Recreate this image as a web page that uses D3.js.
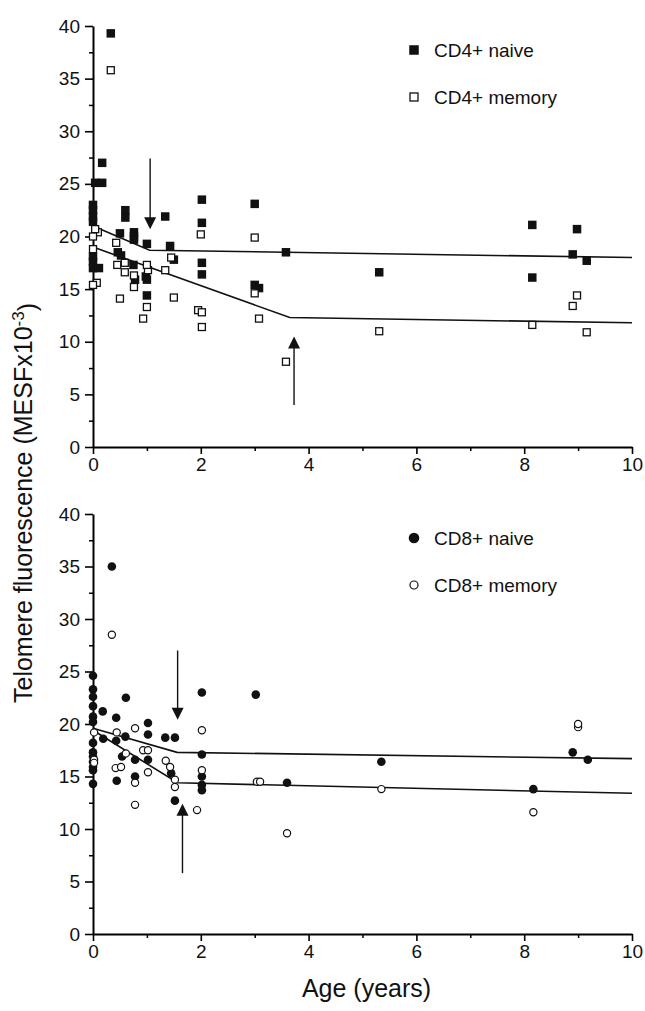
<!DOCTYPE html>
<html>
<head>
<meta charset="utf-8">
<script src="https://cdn.jsdelivr.net/npm/d3@7"></script>
<style>
  body { margin: 0; background: #fff; }
  svg { display: block; font-family: "Liberation Sans", Arial, Helvetica, sans-serif; }
</style>
</head>
<body>
<svg id="chart" width="645" height="1011"></svg>
<script>
// values: [age in years, telomere fluorescence x10^-3]
const cd4Naive = [
  [0.33, 39.3], [0.17, 27.0], [0.04, 25.1], [0.17, 25.1],
  [0.0, 23.0], [0.0, 22.5], [0.0, 21.9], [0.0, 21.4],
  [0.0, 18.1], [0.0, 17.6], [0.0, 17.0], [0.11, 17.0],
  [0.6, 22.5], [0.6, 21.8], [0.5, 20.3], [0.76, 20.4], [0.76, 20.0], [0.76, 19.7],
  [1.0, 19.3], [1.34, 21.9], [1.43, 19.1], [1.5, 17.8],
  [0.46, 18.5], [0.52, 18.2], [0.75, 17.3], [0.78, 15.9],
  [0.98, 16.2], [1.0, 15.9], [1.0, 14.4],
  [2.02, 23.5], [2.02, 21.3], [2.02, 17.5], [2.02, 16.4],
  [3.0, 23.1], [3.0, 15.4], [3.08, 15.1], [3.58, 18.5],
  [5.31, 16.6], [8.15, 21.1], [8.15, 16.1],
  [8.98, 20.7], [8.9, 18.3], [9.16, 17.7]
];
const cd4Memory = [
  [0.33, 35.8], [0.09, 20.4], [0.04, 20.7], [0.0, 20.0], [0.0, 18.8],
  [0.07, 15.6], [0.0, 15.4],
  [0.43, 19.4], [0.45, 17.3], [0.59, 17.5], [0.59, 16.6], [0.76, 16.3], [0.76, 15.2],
  [1.02, 16.8], [1.0, 17.3], [1.45, 18.0], [1.34, 16.8],
  [0.5, 14.1], [1.0, 13.3], [0.93, 12.2], [1.5, 14.2],
  [2.0, 20.2], [1.95, 13.0], [2.02, 12.8], [2.02, 11.4],
  [3.0, 19.9], [3.0, 14.6], [3.08, 12.2], [3.58, 8.1],
  [5.31, 11.0], [8.15, 11.6], [8.9, 13.4], [8.98, 14.4], [9.16, 10.9]
];
const cd8Naive = [
  [0.35, 35.0],
  [0.0, 24.6], [0.0, 23.3], [0.0, 22.6], [0.0, 21.7], [0.0, 20.7], [0.0, 20.2],
  [0.0, 18.2], [0.0, 17.3], [0.0, 16.9], [0.0, 16.4], [0.0, 15.9], [0.0, 15.6], [0.0, 14.3],
  [0.18, 21.2], [0.19, 18.6], [0.61, 22.5], [0.43, 20.6], [0.43, 18.4], [0.6, 18.8],
  [0.54, 16.9], [0.78, 16.6], [0.44, 14.6], [0.78, 15.0],
  [1.02, 20.1], [1.02, 19.0], [1.02, 16.6], [1.34, 18.7], [1.52, 18.7],
  [1.45, 15.3], [1.52, 12.7],
  [2.02, 23.0], [2.02, 17.1], [2.02, 15.0], [2.02, 14.2], [2.02, 13.7],
  [3.02, 22.8], [3.6, 14.4], [5.35, 16.4], [8.17, 13.8], [8.9, 17.3], [9.18, 16.6]
];
const cd8Memory = [
  [0.35, 28.5], [0.02, 19.2], [0.02, 16.6], [0.02, 16.3],
  [0.44, 19.2], [0.78, 19.6], [0.93, 17.5], [1.02, 17.5], [0.61, 17.2],
  [0.42, 15.8], [0.52, 15.9], [0.78, 14.4], [1.02, 15.4], [0.78, 12.3],
  [1.35, 16.5], [1.43, 15.9], [1.52, 14.7], [1.52, 14.0],
  [2.02, 19.4], [2.02, 15.6], [1.93, 11.8],
  [3.04, 14.5], [3.1, 14.5], [3.6, 9.6], [5.35, 13.8], [8.17, 11.6],
  [9.0, 19.7], [9.0, 20.0]
];

// piecewise regression lines
const cd4NaiveFit = [[0, 21.0], [1.05, 18.7], [10, 18.0]];
const cd4MemoryFit = [[0, 19.0], [3.65, 12.3], [10, 11.8]];
const cd8NaiveFit = [[0, 19.6], [1.56, 17.3], [10, 16.7]];
const cd8MemoryFit = [[0, 19.4], [1.57, 14.4], [10, 13.4]];

// arrows: [age, tail value, head value]
const cd4Arrows = [[1.06, 27.4, 20.7], [3.73, 4.0, 10.5]];
const cd8Arrows = [[1.57, 27.0, 20.4], [1.66, 5.8, 12.4]];

const xTicks = [0, 2, 4, 6, 8, 10];
const yTicks = [0, 5, 10, 15, 20, 25, 30, 35, 40];

const svg = d3.select("#chart");
const left = 93, right = 632;

const x = d3.scaleLinear().domain([0, 10]).range([left, right]);

const panels = [
  { top: 26, bottom: 447, naive: cd4Naive, memory: cd4Memory,
    naiveFit: cd4NaiveFit, memoryFit: cd4MemoryFit, arrows: cd4Arrows,
    shape: "square", labels: ["CD4+ naive", "CD4+ memory"] },
  { top: 514, bottom: 934, naive: cd8Naive, memory: cd8Memory,
    naiveFit: cd8NaiveFit, memoryFit: cd8MemoryFit, arrows: cd8Arrows,
    shape: "circle", labels: ["CD8+ naive", "CD8+ memory"] }
];

function drawMarker(g, shape, filled, cx, cy, big) {
  if (shape === "square") {
    const s = filled ? (big ? 9.5 : 8.5) : (big ? 8 : 7);
    g.append("rect")
      .attr("x", cx - s / 2).attr("y", cy - s / 2)
      .attr("width", s).attr("height", s)
      .attr("fill", filled ? "#111" : "#fff")
      .attr("stroke", "#111")
      .attr("stroke-width", filled ? 0 : 1.3);
  } else {
    g.append("circle")
      .attr("cx", cx).attr("cy", cy)
      .attr("r", filled ? (big ? 5.3 : 4.3) : (big ? 4 : 3.6))
      .attr("fill", filled ? "#111" : "#fff")
      .attr("stroke", "#111")
      .attr("stroke-width", filled ? 0 : 1.2);
  }
}

panels.forEach((p) => {
  const y = d3.scaleLinear().domain([0, 40]).range([p.bottom, p.top]);
  const g = svg.append("g");

  // minor ticks
  g.append("g")
    .attr("transform", "translate(" + left + ",0)")
    .call(d3.axisLeft(y).tickValues(d3.range(2.5, 40, 5)).tickSize(4).tickFormat(""))
    .call((a) => a.select(".domain").remove())
    .selectAll("line").attr("stroke-width", 1.5);

  g.append("g")
    .attr("transform", "translate(0," + p.bottom + ")")
    .call(d3.axisBottom(x).tickValues(d3.range(1, 10, 2)).tickSize(4).tickFormat(""))
    .call((a) => a.select(".domain").remove())
    .selectAll("line").attr("stroke-width", 1.5);

  // major axes
  const ay = g.append("g")
    .attr("transform", "translate(" + left + ",0)")
    .call(d3.axisLeft(y).tickValues(yTicks).tickSize(8).tickSizeOuter(0).tickPadding(5));
  ay.select(".domain").attr("stroke-width", 2);
  ay.selectAll(".tick line").attr("stroke-width", 1.6);
  ay.selectAll("text").style("font-size", "19px").attr("fill", "#111");

  const ax = g.append("g")
    .attr("transform", "translate(0," + p.bottom + ")")
    .call(d3.axisBottom(x).tickValues(xTicks).tickSize(7).tickSizeOuter(0).tickPadding(4));
  ax.select(".domain").attr("stroke-width", 2);
  ax.selectAll(".tick line").attr("stroke-width", 1.6);
  ax.selectAll("text").style("font-size", "19px").attr("fill", "#111");

  // fitted lines
  const line = d3.line().x((d) => x(d[0])).y((d) => y(d[1]));
  [p.naiveFit, p.memoryFit].forEach((fit) => {
    g.append("path")
      .datum(fit)
      .attr("d", line)
      .attr("fill", "none")
      .attr("stroke", "#111")
      .attr("stroke-width", 1.6);
  });

  // points
  p.naive.forEach((d) => drawMarker(g, p.shape, true, x(d[0]), y(d[1])));
  p.memory.forEach((d) => drawMarker(g, p.shape, false, x(d[0]), y(d[1])));

  // arrows
  p.arrows.forEach((a) => {
    const ax0 = x(a[0]), y0 = y(a[1]), y1 = y(a[2]);
    const dir = y1 > y0 ? 1 : -1;
    g.append("line")
      .attr("x1", ax0).attr("x2", ax0)
      .attr("y1", y0).attr("y2", y1 - dir * 10)
      .attr("stroke", "#111").attr("stroke-width", 1.4);
    g.append("path")
      .attr("d", "M" + (ax0 - 6) + "," + (y1 - dir * 12) +
        "L" + (ax0 + 6) + "," + (y1 - dir * 12) + "L" + ax0 + "," + y1 + "Z")
      .attr("fill", "#111");
  });

  // legend
  p.labels.forEach((lab, i) => {
    const ly = p.top + 24 + i * 47;
    drawMarker(g, p.shape, i === 0, 414, ly, true);
    g.append("text")
      .attr("x", 434).attr("y", ly)
      .attr("dy", "0.36em")
      .style("font-size", "19px")
      .attr("fill", "#111")
      .text(lab);
  });
});

// axis titles
svg.append("text")
  .attr("x", (left + right) / 2 + 4)
  .attr("y", 997)
  .attr("text-anchor", "middle")
  .style("font-size", "25px")
  .attr("fill", "#111")
  .text("Age (years)");

const yt = svg.append("text")
  .attr("transform", "translate(32,503) rotate(-90)")
  .attr("text-anchor", "middle")
  .style("font-size", "25px")
  .attr("fill", "#111");
yt.append("tspan").text("Telomere fluorescence (MESFx10");
yt.append("tspan").attr("dy", "-0.45em").style("font-size", "17px").text("-3");
yt.append("tspan").attr("dy", "0.45em").text(")");
</script>
</body>
</html>
